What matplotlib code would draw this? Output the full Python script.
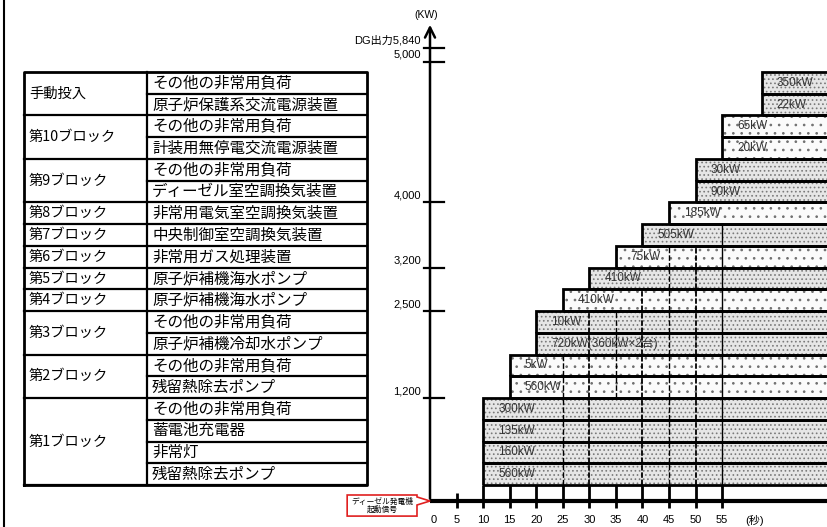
import matplotlib
matplotlib.use("Agg")
import matplotlib.pyplot as plt
from matplotlib.patches import Polygon
from matplotlib.lines import Line2D

plt.rcParams['font.family'] = ['Liberation Sans', 'Noto Sans CJK JP', 'DejaVu Sans']
plt.rcParams['hatch.linewidth'] = 0.7

# ---------------- data ----------------
blocks = ["第1ブロック", "第2ブロック", "第3ブロック", "第4ブロック", "第5ブロック",
          "第6ブロック", "第7ブロック", "第8ブロック", "第9ブロック", "第10ブロック", "手動投入"]
# items listed top -> bottom as in the table
block_items = [
    ["その他の非常用負荷", "蓄電池充電器", "非常灯", "残留熱除去ポンプ"],
    ["その他の非常用負荷", "残留熱除去ポンプ"],
    ["その他の非常用負荷", "原子炉補機冷却水ポンプ"],
    ["原子炉補機海水ポンプ"],
    ["原子炉補機海水ポンプ"],
    ["非常用ガス処理装置"],
    ["中央制御室空調換気装置"],
    ["非常用電気室空調換気装置"],
    ["その他の非常用負荷", "ディーゼル室空調換気装置"],
    ["その他の非常用負荷", "計装用無停電交流電源装置"],
    ["その他の非常用負荷", "原子炉保護系交流電源装置"],
]
block_loads = [
    ["300kW", "135kW", "160kW", "560kW"],
    ["5kW", "560kW"],
    ["10kW", "720kW(360kW×2台)"],
    ["410kW"],
    ["410kW"],
    ["75kW"],
    ["505kW"],
    ["185kW"],
    ["30kW", "90kW"],
    ["65kW", "20kW"],
    ["350kW", "22kW"],
]
block_start = [10, 15, 20, 25, 30, 35, 40, 45, 50, 55, 62.5]   # seconds
# 5-second marks where segment lines cross each block's rows
block_breaks = [
    [25, 30, 40, 45, 50, 55],
    [25, 30, 35, 40, 45, 50, 55],
    [30, 35, 40, 45, 50, 55],
    [40, 45, 50, 55],
    [45, 50, 55],
    [45, 50, 55],
    [55],
    [], [], [], [],
]
x_ticks = [0, 5, 10, 15, 20, 25, 30, 35, 40, 45, 50, 55]
y_tick_labels = ["1,200", "2,500", "3,200", "4,000", "5,000", "DG出力5,840"]
y_tick_blocks = [0, 2, 4, 7]        # label placed at top of these blocks
y_tick_upper = [19.47, 20.11]        # rows for 5,000 and 5,840 ticks

# ---------------- layout constants ----------------
W, H = 827, 527
PX_S = 5.31        # pixels per second
T0 = 430           # pixel x of t = 0
ROW_H = 21.74      # pixel height of a row
ROW0 = 485         # pixel y of bottom of rows
XMAX = (W - T0) / PX_S
AX_Y = (ROW0 - 501) / ROW_H   # x-axis row position


def dx(px):
    return px / PX_S


def dy(px):
    return px / ROW_H


fig = plt.figure(figsize=(W / 100, H / 100), dpi=100)
ax = fig.add_axes([0, 0, 1, 1])
ax.set_xlim(-T0 / PX_S, XMAX)
ax.set_ylim((ROW0 - H) / ROW_H, ROW0 / ROW_H)
ax.axis('off')

# ---------------- bars ----------------
row = 0
block_rows = []
for b, items in enumerate(block_items):
    n = len(items)
    rows_b = list(range(row + n - 1, row - 1, -1))  # top -> bottom
    block_rows.append(rows_b)
    dense = (b % 2 == 0)
    for r, lab in zip(rows_b, block_loads[b]):
        left = block_start[b]
        width = XMAX + 5 - left
        if dense:
            ax.barh(r + 0.5, width, left=left, height=1, color='#e6e6e6',
                    edgecolor='#7a7a7a', hatch='....', linewidth=0, zorder=2)
        else:
            ax.barh(r + 0.5, width, left=left, height=1, color='#fbfbfb',
                    edgecolor='#707070', hatch='..', linewidth=0, zorder=2)
        ax.barh(r + 0.5, width, left=left, height=1, fill=False,
                edgecolor='black', linewidth=2, zorder=4)
        ax.text(left + dx(15), r + 0.5, lab, ha='left', va='center',
                fontsize=8.5, color='#333333', zorder=6)
        for t in block_breaks[b]:
            style = '-' if t == 55 else ((0, (3, 1)) if t % 10 == 0 else (0, (4, 1.5)))
            ax.plot([t, t], [r, r + 1], color='black', lw=1.3 if t % 10 == 0 else 1.0,
                    linestyle=style, zorder=5)
    row += n
n_rows = row

# ---------------- axes lines ----------------
ax.plot([0, XMAX + 1], [AX_Y, AX_Y], color='black', lw=3, zorder=7,
        solid_capstyle='butt')
ax.annotate('', xy=(0, dy(ROW0 - 22)), xytext=(0, AX_Y - 0.02),
            arrowprops=dict(arrowstyle='->', lw=1.8, color='black',
                            mutation_scale=18), zorder=7)
for t in x_ticks[1:]:
    top = 0 if t >= 10 else AX_Y + dy(8)
    ax.plot([t, t], [AX_Y - dy(7), top], color='black', lw=2, zorder=6,
            solid_capstyle='butt')
    ax.text(t, AX_Y - dy(19), str(t), ha='center', va='center', fontsize=8)
ax.text(dx(4), AX_Y - dy(19), "0", ha='center', va='center', fontsize=8)
ax.text(61.2, AX_Y - dy(19), "(秒)", ha='center', va='center', fontsize=8)
ax.text(dx(-4), dy(ROW0 - 15), "(KW)", ha='center', va='center', fontsize=7.5)

# y ticks
tick_rows = [sum(len(block_items[i]) for i in range(k + 1)) for k in y_tick_blocks] + y_tick_upper
for lab, ry in zip(y_tick_labels, tick_rows):
    ax.plot([dx(-6), dx(14)], [ry, ry], color='black', lw=1.6, zorder=7)
    ax.text(dx(-9), ry + dy(2), lab, ha='right', va='bottom', fontsize=8)

# callout
cb = [(-15.6, -0.46), (-2.45, -0.46), (-2.45, -0.55), (0, AX_Y),
      (-2.45, -0.92), (-2.45, -1.43), (-15.6, -1.43)]
ax.add_patch(Polygon(cb, closed=True, facecolor='white', edgecolor='#e02020',
                     lw=1.2, zorder=8))
ax.text(-9.0, -0.76, "ディーゼル発電機", ha='center', va='center', fontsize=5.6,
        family=['Noto Sans CJK JP'], zorder=9)
ax.text(-9.0, -1.15, "起動信号", ha='center', va='center', fontsize=5.6,
        family=['Noto Sans CJK JP'], zorder=9)

# ---------------- table ----------------
tax = fig.add_axes([24 / W, (H - ROW0) / H, 343 / W, (n_rows * ROW_H) / H])
tax.set_xlim(0, 1)
tax.set_ylim(0, n_rows)
tax.axis('off')
div = 123 / 343
for b, items in enumerate(block_items):
    rows_b = block_rows[b]
    top = rows_b[0] + 1
    bot = rows_b[-1]
    tax.plot([0, 1], [bot, bot], color='black', lw=1.6, clip_on=False)
    tax.text(5 / 343, (top + bot) / 2, blocks[b], ha='left', va='center',
             fontsize=10.3, family=['Noto Sans CJK JP'])
    for r, it in zip(rows_b, items):
        if r != bot:
            tax.plot([div, 1], [r, r], color='black', lw=1.6, clip_on=False)
        tax.text(div + 5 / 343, r + 0.5, it, ha='left', va='center',
                 fontsize=11.2, family=['Noto Sans CJK JP'])
tax.plot([0, 1, 1, 0, 0], [0, 0, n_rows, n_rows, 0], color='black', lw=2,
         clip_on=False)
tax.plot([div, div], [0, n_rows], color='black', lw=1.6, clip_on=False)

# figure frame line at left
fig.add_artist(Line2D([4 / W, 4 / W], [0, 1], transform=fig.transFigure,
                      color='black', lw=1.5))

fig.savefig("out.png", dpi=100)
